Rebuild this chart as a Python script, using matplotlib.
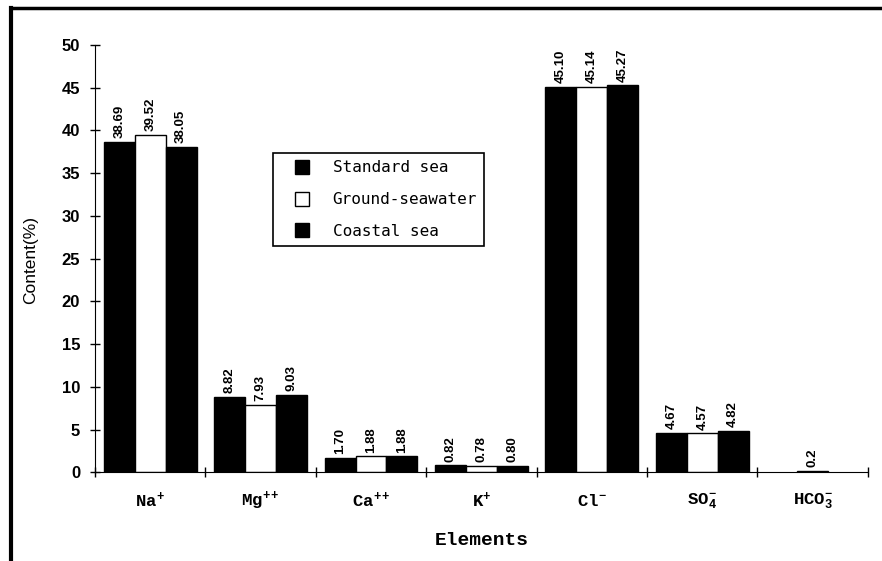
import matplotlib
matplotlib.use('Agg')
import matplotlib.pyplot as plt
import numpy as np
from matplotlib.lines import Line2D

plt.rcParams['mathtext.fontset'] = 'custom'
plt.rcParams['mathtext.rm'] = 'Liberation Mono:bold'
plt.rcParams['mathtext.it'] = 'Liberation Mono:bold'
plt.rcParams['mathtext.bf'] = 'Liberation Mono:bold'

elements = ['Na$^{+}$', 'Mg$^{++}$', 'Ca$^{++}$', 'K$^{+}$', 'Cl$^{-}$', 'SO$_{4}^{-}$', 'HCO$_{3}^{-}$']
standard_sea = [38.69, 8.82, 1.70, 0.82, 45.10, 4.67, np.nan]
ground_seawater = [39.52, 7.93, 1.88, 0.78, 45.14, 4.57, 0.2]
coastal_sea = [38.05, 9.03, 1.88, 0.80, 45.27, 4.82, np.nan]
std_labels = ['38.69', '8.82', '1.70', '0.82', '45.10', '4.67', '']
gsw_labels = ['39.52', '7.93', '1.88', '0.78', '45.14', '4.57', '0.2']
cst_labels = ['38.05', '9.03', '1.88', '0.80', '45.27', '4.82', '']

fig = plt.figure(figsize=(8.82, 5.61), dpi=100)
ax = fig.add_axes([0.1077, 0.1578, 0.8763, 0.762])

x = np.arange(len(elements))
w = 0.28
series = [(standard_sea, std_labels, 'black', -w),
          (ground_seawater, gsw_labels, 'white', 0),
          (coastal_sea, cst_labels, 'black', w)]
for vals, labs, col, off in series:
    ax.bar(x + off, vals, w, color=col, edgecolor='black', linewidth=1)
    for xi, v, lab in zip(x, vals, labs):
        if lab:
            ax.text(xi + off, v + 0.45, lab, rotation=90, ha='center', va='bottom',
                    fontsize=9.5, fontweight='bold', family='Liberation Sans')

ax.set_xlim(-0.5, 6.5)
ax.set_ylim(0, 50)
ax.set_yticks(np.arange(0, 51, 5))
ax.set_yticklabels([str(v) for v in range(0, 51, 5)], fontsize=12,
                   fontweight='bold', family='Liberation Sans')
ax.set_xticks(np.arange(-0.5, 7, 1))
ax.set_xticklabels([])
ax.tick_params(axis='both', direction='inout', length=7.5, width=1, pad=7)
for xi, name in zip(x, elements):
    ax.text(xi, -3.3, name, ha='center', va='center', fontsize=12.5,
            fontweight='bold', family='Liberation Mono')
ax.text(3.0, -8.0, 'Elements', ha='center', va='center', fontsize=14,
        fontweight='bold', family='Liberation Mono')
ax.set_ylabel('Content(%)', fontsize=12.5, family='Liberation Sans')
ax.yaxis.set_label_coords(-0.074, 0.497)

for s in ['top', 'right']:
    ax.spines[s].set_visible(False)

handles = [Line2D([], [], marker='s', color='none', markerfacecolor=c,
                  markeredgecolor='black', markersize=10, linestyle='none')
           for c in ['black', 'white', 'black']]
leg = ax.legend(handles, ['Standard sea', 'Ground-seawater', 'Coastal sea'],
                loc='upper left', bbox_to_anchor=(0.230, 0.747), fancybox=False,
                edgecolor='black', framealpha=1, handletextpad=0.5,
                borderpad=0.45, labelspacing=1.05, handlelength=2.8,
                borderaxespad=0, prop={'family': 'DejaVu Sans Mono', 'size': 11.5})
leg.get_frame().set_linewidth(1.2)

# outer frame of the scanned figure
fig.add_artist(Line2D([0.0125, 1.0], [0.985, 0.985], color='black', lw=2.5,
                      transform=fig.transFigure))
fig.add_artist(Line2D([0.0125, 0.0125], [0.0, 0.985], color='black', lw=3,
                      transform=fig.transFigure))

fig.savefig('out.png', dpi=100)
